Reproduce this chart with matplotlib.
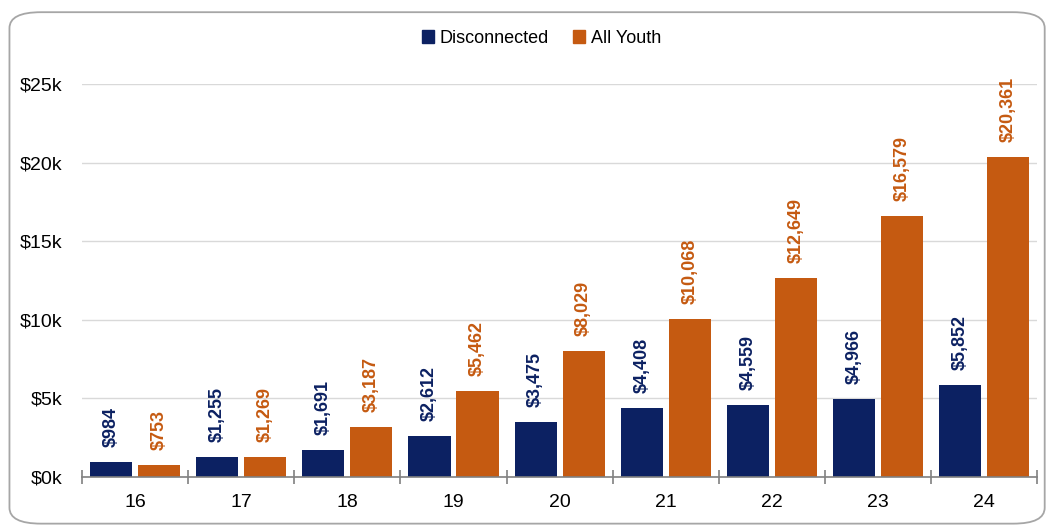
import matplotlib.pyplot as plt
from matplotlib.patches import FancyBboxPatch, Patch
import numpy as np

ages = ['16', '17', '18', '19', '20', '21', '22', '23', '24']
disconnected = [984, 1255, 1691, 2612, 3475, 4408, 4559, 4966, 5852]
all_youth = [753, 1269, 3187, 5462, 8029, 10068, 12649, 16579, 20361]
yticks = [0, 5000, 10000, 15000, 20000, 25000]

navy = '#0c2162'
orange = '#c55a11'
font = ['Liberation Sans Narrow', 'Liberation Sans', 'DejaVu Sans']

plt.rcParams['font.family'] = font

fig = plt.figure(figsize=(10.51, 5.30), dpi=100)
# rounded frame around the chart
fig.patches.append(FancyBboxPatch((0.009, 0.012), 0.985, 0.965,
                                  boxstyle='round,pad=0,rounding_size=0.03',
                                  transform=fig.transFigure, fill=False,
                                  edgecolor='#a6a6a6', linewidth=1.3))
ax = fig.add_axes([0.078, 0.1, 0.909, 0.7415])

x = np.arange(len(ages))
w = 0.396
off = 0.226
b1 = ax.bar(x - off, disconnected, w, color=navy)
b2 = ax.bar(x + off, all_youth, w, color=orange)

for bars, vals, c in [(b1, disconnected, navy), (b2, all_youth, orange)]:
    for r, v in zip(bars, vals):
        ax.text(r.get_x() + r.get_width() / 2, v + 950, '${:,}'.format(v),
                rotation=90, ha='center', va='bottom', color=c,
                fontsize=13, fontweight='bold', clip_on=False)

ax.set_xlim(-0.5, len(ages) - 0.5)
ax.set_ylim(0, 25000)
ax.set_yticks(yticks)
ax.set_yticklabels(['${}k'.format(v // 1000) for v in yticks], fontsize=14)
ax.set_xticks(x)
ax.set_xticklabels(ages, fontsize=14)
ax.set_xticks(np.arange(-0.5, len(ages)), minor=True)
ax.tick_params(axis='x', which='major', length=0, pad=12)
ax.tick_params(axis='x', which='minor', length=10, direction='inout', color='#808080', width=1.2)
ax.tick_params(axis='y', length=0, pad=14)
ax.grid(axis='y', color='#d9d9d9', linewidth=1)
ax.set_axisbelow(True)
for s in ['top', 'right', 'left']:
    ax.spines[s].set_visible(False)
ax.spines['bottom'].set_color('#808080')
ax.spines['bottom'].set_linewidth(1.2)

handles = [Patch(color=navy, label='Disconnected'), Patch(color=orange, label='All Youth')]
fig.legend(handles=handles, loc='center', bbox_to_anchor=(0.515, 0.928), ncol=2,
           frameon=False, fontsize=13, handlelength=0.7, handleheight=0.7,
           handletextpad=0.3, columnspacing=1.3)

fig.savefig('out.png', dpi=100)
